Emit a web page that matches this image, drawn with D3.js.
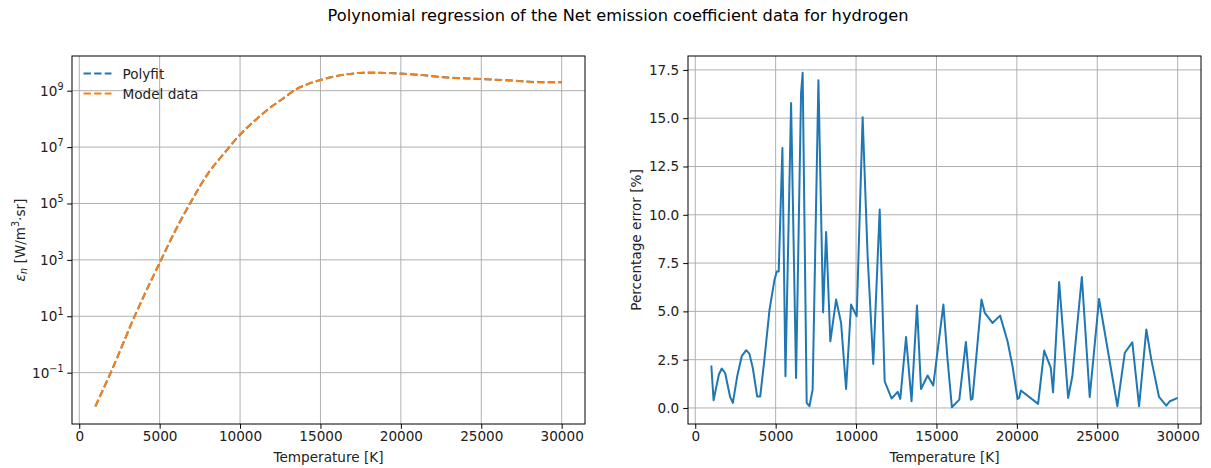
<!DOCTYPE html>
<html>
<head>
<meta charset="utf-8">
<script src="https://cdn.jsdelivr.net/npm/d3@7"></script>
<style>
  body { margin: 0; background: #fff; }
  svg { font-family: "DejaVu Sans", sans-serif; }
</style>
</head>
<body>
<script>
// data
var temp_model = [1000, 2000, 3500, 5000, 6000, 7000, 8000, 9000, 10000, 11000, 12000, 12700, 13500, 14300, 15000, 16500, 18000, 20000, 21500, 22500, 25000, 27000, 28500, 30000]
var eps_model = [6.3e-3, 0.115, 11.7, 794, 1.2e4, 1.32e5, 1.12e6, 6.0e6, 2.8e7, 9.5e7, 2.8e8, 5.5e8, 1.12e9, 1.8e9, 2.4e9, 3.7e9, 4.4e9, 4.0e9, 3.55e9, 3.0e9, 2.6e9, 2.25e9, 2.0e9, 2.0e9]
var eps_polyfit = [6.4e-3, 0.113, 11.9, 780, 1.15e4, 1.28e5, 1.15e6, 5.9e6, 2.75e7, 9.6e7, 2.85e8, 5.4e8, 1.14e9, 1.78e9, 2.38e9, 3.72e9, 4.35e9, 4.05e9, 3.5e9, 3.05e9, 2.58e9, 2.27e9, 2.02e9, 1.99e9]

var temp_err = [1000, 1140, 1470, 1650, 1860, 2170, 2340, 2610, 2890, 3170, 3370, 3580, 3850, 4040, 4300, 4620, 4930, 5070, 5190, 5420, 5610, 5960, 6270, 6580, 6680, 6930, 7100, 7300, 7660, 7950, 8140, 8400, 8760, 9070, 9380, 9690, 10040, 10410, 10720, 11070, 11470, 11780, 12210, 12590, 12750, 13110, 13450, 13790, 14040, 14450, 14800, 15430, 15690, 15960, 16420, 16830, 17140, 17240, 17800, 18010, 18480, 18960, 19420, 19730, 20040, 20140, 20250, 21320, 21700, 22110, 22250, 22630, 23190, 23450, 24040, 24530, 25110, 26250, 26710, 27180, 27600, 28050, 28360, 28840, 29290, 29520, 30000]
var pct_err = [2.2, 0.4, 1.73, 2.04, 1.81, 0.57, 0.26, 1.64, 2.68, 2.99, 2.8, 2.07, 0.6, 0.6, 2.5, 5.09, 6.64, 7.07, 7.07, 13.46, 1.64, 15.79, 1.55, 16.3, 17.35, 0.26, 0.09, 0.95, 16.96, 4.95, 9.11, 3.45, 5.61, 4.4, 0.98, 5.35, 4.75, 15.05, 7.85, 2.28, 10.27, 1.38, 0.49, 0.83, 0.47, 3.67, 0.35, 5.3, 0.98, 1.68, 1.16, 5.35, 2.5, 0.04, 0.43, 3.42, 0.43, 0.47, 5.61, 4.92, 4.4, 4.78, 3.45, 2.16, 0.47, 0.52, 0.9, 0.21, 2.97, 2.07, 0.81, 6.52, 0.52, 1.64, 6.78, 0.57, 5.64, 0.09, 2.85, 3.4, 0.09, 4.06, 2.5, 0.57, 0.12, 0.35, 0.52]

var x_ticks = [0, 5000, 10000, 15000, 20000, 25000, 30000]
var log_exps = [-1, 1, 3, 5, 7, 9]
var err_ticks = [0, 2.5, 5, 7.5, 10, 12.5, 15, 17.5]

var width = 1211, height = 468
var top_y = 56, bot_y = 424
var fs = 13.6, fs_sup = 9.6
var blue = '#1f77b4', orange = '#ff7f0e', grid_col = '#b0b0b0'
var lw = 2, dash = '7.4,3.2', tick_len = 4.8

var svg = d3.select('body').append('svg').attr('width', width).attr('height', height)

svg.append('text').attr('x', 618).attr('y', 15).attr('text-anchor', 'middle')
  .attr('dominant-baseline', 'central').attr('font-size', 16.2).attr('fill', '#000')
  .text('Polynomial regression of the Net emission coefficient data for hydrogen')

function sup(v) { return String(v).replace('-', '\u2212') }

function frame(g, x, left, right) {
  // vertical grid + x axis
  g.append('g').selectAll('line').data(x_ticks).enter().append('line')
    .attr('x1', d => x(d)).attr('x2', d => x(d)).attr('y1', top_y).attr('y2', bot_y)
    .attr('stroke', grid_col).attr('stroke-width', 1)
  var xa = g.append('g').attr('transform', 'translate(0,' + bot_y + ')')
    .call(d3.axisBottom(x).tickValues(x_ticks).tickFormat(d3.format('d')).tickSize(tick_len).tickPadding(3))
  xa.select('.domain').remove()
  xa.selectAll('text').attr('font-size', fs).attr('font-family', 'DejaVu Sans').attr('fill', '#222')
  xa.selectAll('line').attr('stroke', '#000').attr('stroke-width', 1)
  g.append('text').attr('x', (left + right) / 2).attr('y', 457).attr('text-anchor', 'middle')
    .attr('dominant-baseline', 'central').attr('font-size', fs).attr('fill', '#222').text('Temperature [K]')
}

function border(g, left, right) {
  g.append('rect').attr('x', left).attr('y', top_y).attr('width', right - left).attr('height', bot_y - top_y)
    .attr('fill', 'none').attr('stroke', '#000').attr('stroke-width', 1)
}

// ---------- left: log plot ----------
var L0 = 72, L1 = 585
var xL = d3.scaleLinear().domain([-450, 31450]).range([L0, L1])
var yL = d3.scaleLog().domain([Math.pow(10, -2.82), Math.pow(10, 10.23)]).range([bot_y, top_y])

var gL = svg.append('g')
gL.append('g').selectAll('line').data(log_exps).enter().append('line')
  .attr('x1', L0).attr('x2', L1).attr('y1', d => yL(Math.pow(10, d))).attr('y2', d => yL(Math.pow(10, d)))
  .attr('stroke', grid_col).attr('stroke-width', 1)
frame(gL, xL, L0, L1)

var yLax = gL.append('g').attr('transform', 'translate(' + L0 + ',0)')
  .call(d3.axisLeft(yL).tickValues(log_exps.map(e => Math.pow(10, e))).tickFormat('').tickSize(tick_len))
yLax.select('.domain').remove()
yLax.selectAll('line').attr('stroke', '#000').attr('stroke-width', 1)
log_exps.forEach(function(e) {
  var t = gL.append('text').attr('x', L0 - 8.5).attr('y', yL(Math.pow(10, e)) + 5)
    .attr('text-anchor', 'end').attr('font-size', fs).attr('fill', '#222')
  t.append('tspan').text('10')
  t.append('tspan').attr('dy', -6).attr('font-size', fs_sup).text(sup(e))
})

var lineL = d3.line().x((d, i) => xL(temp_model[i])).y(d => yL(d)).curve(d3.curveMonotoneX)
gL.append('path').datum(eps_polyfit).attr('d', lineL).attr('fill', 'none')
  .attr('stroke', blue).attr('stroke-width', lw).attr('stroke-dasharray', dash)
gL.append('path').datum(eps_model).attr('d', lineL).attr('fill', 'none')
  .attr('stroke', orange).attr('stroke-width', lw).attr('stroke-dasharray', dash)

var yl = gL.append('text').attr('transform', 'translate(20,' + ((top_y + bot_y) / 2) + ') rotate(-90)')
  .attr('text-anchor', 'middle').attr('dominant-baseline', 'central').attr('font-size', fs).attr('fill', '#222')
yl.append('tspan').attr('font-style', 'italic').text('\u03b5')
yl.append('tspan').attr('font-style', 'italic').attr('font-size', fs_sup).attr('dy', 3).text('n')
yl.append('tspan').attr('dy', -3).text(' [W/m')
yl.append('tspan').attr('font-size', fs_sup).attr('dy', -5.5).text('3')
yl.append('tspan').attr('dy', 5.5).text('\u00b7sr]')

// legend
var leg = [['Polyfit', blue], ['Model data', orange]]
leg.forEach(function(d, i) {
  var ly = 73.5 + i * 20
  gL.append('line').attr('x1', 83.5).attr('x2', 111.5).attr('y1', ly).attr('y2', ly)
    .attr('stroke', d[1]).attr('stroke-width', lw).attr('stroke-dasharray', dash)
  gL.append('text').attr('x', 122.5).attr('y', ly).attr('dominant-baseline', 'central')
    .attr('font-size', fs).attr('fill', '#222').text(d[0])
})
border(gL, L0, L1)

// ---------- right: error plot ----------
var R0 = 688, R1 = 1201
var xR = d3.scaleLinear().domain([-450, 31450]).range([R0, R1])
var yR = d3.scaleLinear().domain([-0.83, 18.22]).range([bot_y, top_y])

var gR = svg.append('g')
gR.append('g').selectAll('line').data(err_ticks).enter().append('line')
  .attr('x1', R0).attr('x2', R1).attr('y1', d => yR(d)).attr('y2', d => yR(d))
  .attr('stroke', grid_col).attr('stroke-width', 1)
frame(gR, xR, R0, R1)

var yRax = gR.append('g').attr('transform', 'translate(' + R0 + ',0)')
  .call(d3.axisLeft(yR).tickValues(err_ticks).tickFormat(d3.format('.1f')).tickSize(tick_len).tickPadding(4))
yRax.select('.domain').remove()
yRax.selectAll('line').attr('stroke', '#000').attr('stroke-width', 1)
yRax.selectAll('text').attr('font-size', fs).attr('font-family', 'DejaVu Sans').attr('fill', '#222')

var lineR = d3.line().x((d, i) => xR(temp_err[i])).y(d => yR(d))
gR.append('path').datum(pct_err).attr('d', lineR).attr('fill', 'none')
  .attr('stroke', blue).attr('stroke-width', lw).attr('stroke-linejoin', 'round')

gR.append('text').attr('transform', 'translate(636,' + ((top_y + bot_y) / 2) + ') rotate(-90)')
  .attr('text-anchor', 'middle').attr('dominant-baseline', 'central').attr('font-size', fs).attr('fill', '#222')
  .text('Percentage error [%]')
border(gR, R0, R1)
</script>
</body>
</html>
